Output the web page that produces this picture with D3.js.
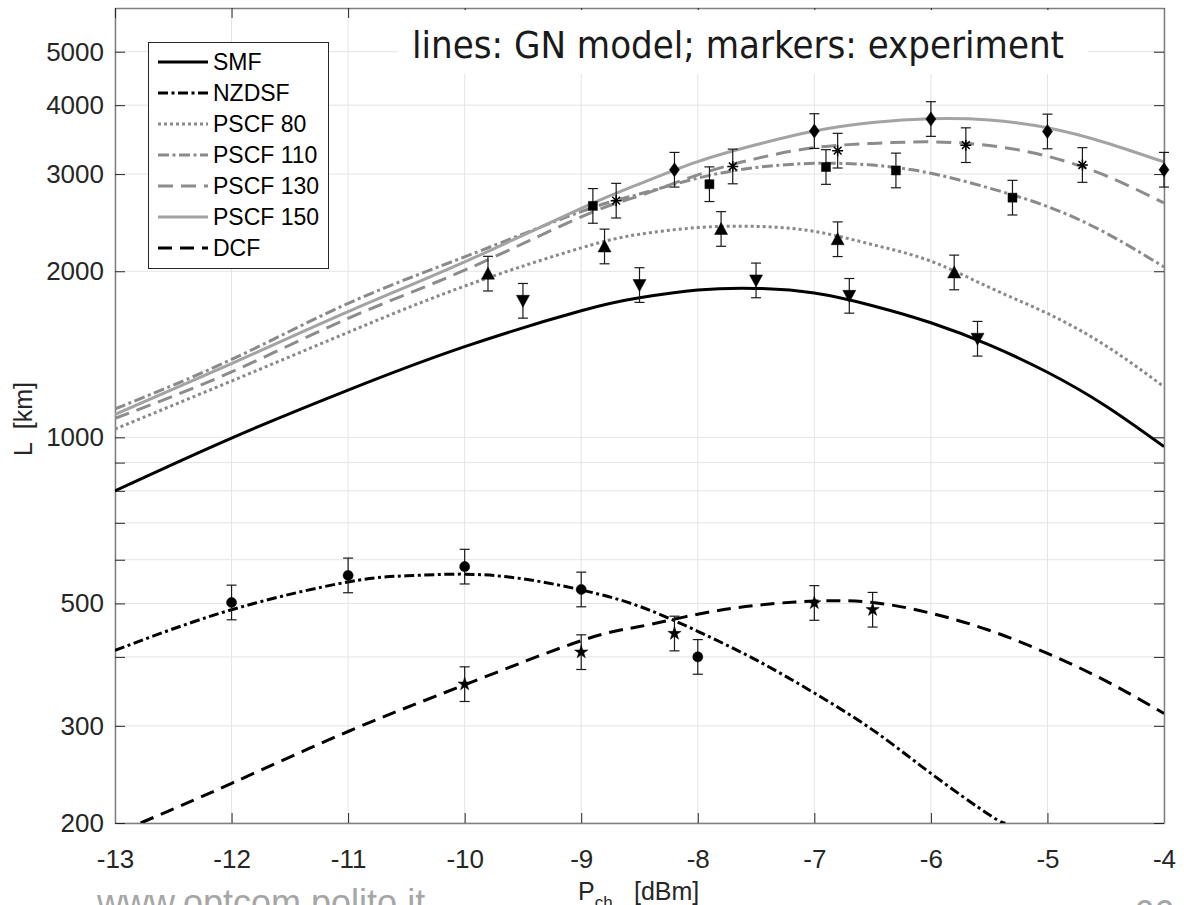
<!DOCTYPE html>
<html>
<head>
<meta charset="utf-8">
<script src="https://cdn.jsdelivr.net/npm/d3@7"></script>
<style>
  body { margin: 0; background: #fff; }
  svg { display: block; }
  text { font-family: "Liberation Sans", Arial, sans-serif; }
</style>
</head>
<body>
<svg id="chart" width="1184" height="905"></svg>
<script>
// ---- data ----
// GN model curves (x in dBm, reach in km)
var pGrid = [-13, -12, -11, -10, -9, -8.5, -8, -7.5, -7, -6.5, -6, -5.5, -5, -4.5, -4];
var smfLine     = [800, 997, 1218, 1460, 1696, 1790, 1849, 1862, 1826, 1732, 1613, 1471, 1312, 1140, 962];
var pscf80Line  = [1035, 1265, 1550, 1880, 2205, 2334, 2400, 2412, 2362, 2235, 2086, 1870, 1677, 1466, 1235];
var pscf110Line = [1126, 1384, 1749, 2124, 2565, 2760, 2950, 3083, 3138, 3115, 3010, 2830, 2620, 2347, 2036];
var pscf130Line = [1082, 1314, 1643, 2009, 2510, 2740, 2990, 3200, 3350, 3410, 3432, 3380, 3232, 2980, 2660];
var pscf150Line = [1100, 1360, 1690, 2080, 2600, 2880, 3160, 3390, 3590, 3720, 3780, 3760, 3640, 3420, 3156];

var nzdsfGrid = [-13, -12, -11, -10.5, -10, -9.5, -9, -8.5, -8, -7.5, -7, -6.5, -6, -5.5, -5.36];
var nzdsfLine = [411, 487, 547, 561, 565, 554, 529, 494, 445, 395, 344, 295, 246, 207, 200];

var dcfGrid = [-12.78, -12, -11, -10, -9, -8.5, -8, -7.5, -7, -6.5, -6, -5.5, -5, -4.5, -4];
var dcfLine = [200, 236, 293, 356, 428, 454, 478, 496, 505, 502, 480, 447, 406, 362, 316];

// experiment markers
var smfP = [-9.5, -8.5, -7.5, -6.7, -5.6];
var smfL = [1768, 1888, 1925, 1805, 1509];
var p80P = [-9.8, -8.8, -7.8, -6.8, -5.8];
var p80L = [1980, 2218, 2386, 2286, 1990];
var p110P = [-8.9, -7.9, -6.9, -6.3, -5.3];
var p110L = [2627, 2876, 3090, 3046, 2719];
var p130P = [-8.7, -7.7, -6.8, -5.7, -4.7];
var p130L = [2685, 3097, 3308, 3385, 3116];
var p150P = [-8.2, -7, -6, -5, -4];
var p150L = [3055, 3590, 3775, 3584, 3055];
var nzdsfP = [-12, -11, -10, -9, -8];
var nzdsfL = [502, 562, 583, 530, 400];
var dcfP = [-10, -9, -8.2, -7, -6.5];
var dcfL = [357, 408, 441, 501, 487];
var errFactor = 1.075;   // error bar +-7.5 %

var xTicks = [-13, -12, -11, -10, -9, -8, -7, -6, -5, -4];
var yTicks = [200, 300, 400, 500, 600, 700, 800, 900, 1000, 2000, 3000, 4000, 5000];
var yLabeled = [200, 300, 500, 1000, 2000, 3000, 4000, 5000];

var legendNames = ['SMF', 'NZDSF', 'PSCF 80', 'PSCF 110', 'PSCF 130', 'PSCF 150', 'DCF'];

// ---- chart ----
var svg = d3.select('#chart');
var plotLeft = 115, plotRight = 1164, plotTop = 8, plotBottom = 823;
var x = d3.scaleLinear().domain([-13, -4]).range([plotLeft, plotRight]);
var y = d3.scaleLog().domain([200, 6000]).range([plotBottom, plotTop]);

var styles = {
  'SMF':      { color: '#000000', dash: null },
  'NZDSF':    { color: '#000000', dash: '10,3.5,3,3.5' },
  'PSCF 80':  { color: '#898989', dash: '3,3' },
  'PSCF 110': { color: '#8a8a8a', dash: '11,3.5,3,3.5' },
  'PSCF 130': { color: '#8c8c8c', dash: '15,8' },
  'PSCF 150': { color: '#a3a3a3', dash: null },
  'DCF':      { color: '#000000', dash: '14,8' }
};

// grid
svg.append('g').selectAll('line').data(xTicks).enter().append('line')
  .attr('x1', d => x(d)).attr('x2', d => x(d))
  .attr('y1', plotTop).attr('y2', plotBottom)
  .attr('stroke', '#e4e4e4').attr('stroke-width', 1);
svg.append('g').selectAll('line').data(yTicks).enter().append('line')
  .attr('x1', plotLeft).attr('x2', plotRight)
  .attr('y1', d => y(d)).attr('y2', d => y(d))
  .attr('stroke', '#e4e4e4').attr('stroke-width', 1);

// axes (ticks point inward, box on)
function styleAxis(g) {
  g.select('.domain').attr('stroke', '#808080').attr('stroke-width', 1.5);
  g.selectAll('.tick line').attr('stroke', '#262626');
  g.selectAll('.tick text').attr('fill', '#262626')
    .style('font-size', '26px').style('font-family', '"Liberation Sans", Arial, sans-serif');
}
svg.append('g')
  .attr('transform', 'translate(0,' + plotBottom + ')')
  .call(d3.axisBottom(x).tickValues(xTicks).tickSizeInner(-10).tickSizeOuter(0).tickPadding(27)
    .tickFormat(d => String(d)))
  .call(styleAxis);
svg.append('g')
  .attr('transform', 'translate(' + plotLeft + ',0)')
  .call(d3.axisLeft(y).tickValues(yTicks).tickSizeInner(-10).tickSizeOuter(0).tickPadding(11)
    .tickFormat(d => yLabeled.indexOf(d) >= 0 ? String(d) : ''))
  .call(styleAxis);
svg.append('g')
  .attr('transform', 'translate(0,' + plotTop + ')')
  .call(d3.axisTop(x).tickValues(xTicks).tickSizeInner(-10).tickSizeOuter(0).tickFormat(''))
  .call(styleAxis);
svg.append('g')
  .attr('transform', 'translate(' + plotRight + ',0)')
  .call(d3.axisRight(y).tickValues(yTicks).tickSizeInner(-10).tickSizeOuter(0).tickFormat(''))
  .call(styleAxis);

// model curves
svg.append('clipPath').attr('id', 'plotclip').append('rect')
  .attr('x', plotLeft).attr('y', plotTop)
  .attr('width', plotRight - plotLeft).attr('height', plotBottom - plotTop);

var line = d3.line().x(d => x(d[0])).y(d => y(d[1])).curve(d3.curveNatural);
var curves = [
  ['PSCF 80', pGrid, pscf80Line],
  ['PSCF 110', pGrid, pscf110Line],
  ['PSCF 130', pGrid, pscf130Line],
  ['PSCF 150', pGrid, pscf150Line],
  ['SMF', pGrid, smfLine],
  ['NZDSF', nzdsfGrid, nzdsfLine],
  ['DCF', dcfGrid, dcfLine]
];
var curveG = svg.append('g').attr('clip-path', 'url(#plotclip)');
curves.forEach(function (c) {
  var st = styles[c[0]];
  curveG.append('path')
    .datum(d3.zip(c[1], c[2]))
    .attr('d', line)
    .attr('fill', 'none')
    .attr('stroke', st.color)
    .attr('stroke-width', 3)
    .attr('stroke-dasharray', st.dash);
});

// markers with error bars
function markerPath(type) {
  if (type === 'down') return 'M0,6.5L6.5,-5.5L-6.5,-5.5Z';
  if (type === 'up') return 'M0,-6.5L6.5,5.5L-6.5,5.5Z';
  if (type === 'square') return 'M-4.5,-4.5h9v9h-9Z';
  if (type === 'diamond') return 'M0,-7L5,0L0,7L-5,0Z';
  if (type === 'circle') return d3.symbol(d3.symbolCircle, 80)();
  if (type === 'star') return d3.symbol(d3.symbolStar, 55)();
  return 'M-5.5,0H5.5M0,-5.5V5.5M-3.9,-3.9L3.9,3.9M-3.9,3.9L3.9,-3.9';
}
var markerSets = [
  [smfP, smfL, 'down'], [p80P, p80L, 'up'], [p110P, p110L, 'square'],
  [p130P, p130L, 'asterisk'], [p150P, p150L, 'diamond'],
  [nzdsfP, nzdsfL, 'circle'], [dcfP, dcfL, 'star']
];
markerSets.forEach(function (m) {
  var pts = d3.zip(m[0], m[1]);
  var g = svg.append('g');
  var eb = g.selectAll('g.eb').data(pts).enter().append('g')
    .attr('stroke', '#1a1a1a').attr('stroke-width', 1.2);
  eb.append('line')
    .attr('x1', d => x(d[0])).attr('x2', d => x(d[0]))
    .attr('y1', d => y(d[1] * errFactor)).attr('y2', d => y(d[1] / errFactor));
  eb.append('line')
    .attr('x1', d => x(d[0]) - 5).attr('x2', d => x(d[0]) + 5)
    .attr('y1', d => y(d[1] * errFactor)).attr('y2', d => y(d[1] * errFactor));
  eb.append('line')
    .attr('x1', d => x(d[0]) - 5).attr('x2', d => x(d[0]) + 5)
    .attr('y1', d => y(d[1] / errFactor)).attr('y2', d => y(d[1] / errFactor));
  g.selectAll('path').data(pts).enter().append('path')
    .attr('transform', d => 'translate(' + x(d[0]) + ',' + y(d[1]) + ')')
    .attr('d', markerPath(m[2]))
    .attr('fill', m[2] === 'asterisk' ? 'none' : '#000')
    .attr('stroke', '#000')
    .attr('stroke-width', m[2] === 'asterisk' ? 1.5 : 0.5);
});

// title box (white background hides the grid behind it)
svg.append('rect').attr('x', 398).attr('y', 10).attr('width', 690).attr('height', 64).attr('fill', '#fff');
svg.append('text')
  .attr('x', 412).attr('y', 58)
  .style('font-family', '"DejaVu Sans Condensed", "DejaVu Sans", sans-serif')
  .style('font-stretch', 'condensed')
  .style('font-size', '38px')
  .attr('fill', '#1a1a1a')
  .text('lines: GN model; markers: experiment');

// legend
var lg = svg.append('g');
lg.append('rect').attr('x', 148.5).attr('y', 42.5).attr('width', 180).attr('height', 226)
  .attr('fill', '#fff').attr('stroke', '#262626').attr('stroke-width', 1);
legendNames.forEach(function (name, i) {
  var st = styles[name];
  var ly = 62 + i * 31;
  lg.append('line')
    .attr('x1', 158).attr('x2', 208).attr('y1', ly).attr('y2', ly)
    .attr('stroke', st.color).attr('stroke-width', 3).attr('stroke-dasharray', st.dash);
  lg.append('text')
    .attr('x', 213).attr('y', ly).attr('dy', '0.36em')
    .style('font-size', '23px').attr('fill', '#000')
    .text(name);
});

// axis labels
var xl = svg.append('text').attr('x', 578).attr('y', 900).style('font-size', '25px').attr('fill', '#262626');
xl.append('tspan').text('P');
xl.append('tspan').attr('dy', 8).style('font-size', '17px').text('ch');
xl.append('tspan').attr('x', 634).attr('dy', -8).text('[dBm]');

svg.append('text')
  .attr('transform', 'translate(32,419) rotate(-90)')
  .attr('text-anchor', 'middle')
  .style('font-size', '25px').style('white-space', 'pre').attr('fill', '#262626')
  .text('L  [km]');

// slide footer (cut by the frame)
svg.append('text').attr('x', 97).attr('y', 915)
  .style('font-size', '36px').attr('fill', '#a6a6a6')
  .text('www.optcom.polito.it');
svg.append('text').attr('x', 1134).attr('y', 926)
  .style('font-size', '36px').attr('fill', '#a6a6a6')
  .text('66');
</script>
</body>
</html>
